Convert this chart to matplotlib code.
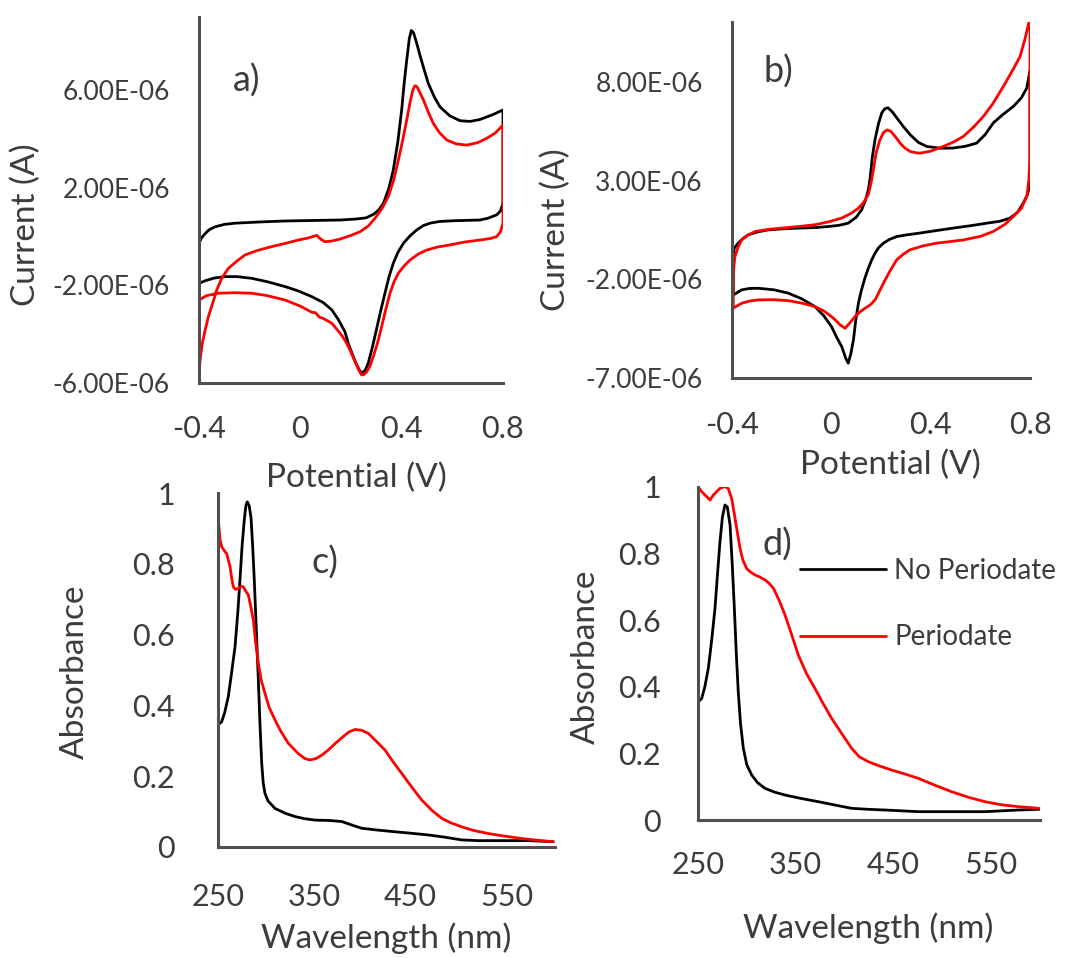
import matplotlib
matplotlib.use("Agg")
import matplotlib.pyplot as plt

plt.rcParams['font.family'] = ['Lato', 'DejaVu Sans']

W, H = 1074, 958

# ---- panel a: CV, potential (V) vs current (uA) ----
a_black_E = [-0.4, -0.39, -0.376, -0.36, -0.337, -0.3, -0.258, -0.16, -0.06, 0.05, 0.157, 0.22,
             0.26, 0.29, 0.31, 0.328, 0.35, 0.367, 0.385, 0.40, 0.41, 0.42, 0.43, 0.438, 0.447,
             0.46, 0.473, 0.49, 0.505, 0.53, 0.551, 0.59, 0.63, 0.67, 0.709, 0.76, 0.8,
             0.8, 0.79, 0.775, 0.74, 0.709, 0.604, 0.55, 0.512, 0.485, 0.459, 0.432, 0.407,
             0.385, 0.367, 0.35, 0.334, 0.317, 0.30, 0.284, 0.268, 0.255, 0.242, 0.232, 0.22,
             0.209, 0.19, 0.176, 0.15, 0.124, 0.09, 0.045, -0.01, -0.06, -0.13, -0.192, -0.25,
             -0.297, -0.34, -0.376, -0.4, -0.4]
a_black_I = [-0.27, -0.05, 0.12, 0.28, 0.40, 0.5, 0.55, 0.6, 0.64, 0.66, 0.68, 0.72,
             0.77, 0.92, 1.1, 1.36, 2.0, 2.73, 3.9, 5.19, 6.3, 7.24, 8.1, 8.45, 8.35,
             7.9, 7.4, 6.8, 6.28, 5.7, 5.32, 4.95, 4.75, 4.72, 4.8, 5.0, 5.19,
             1.36, 1.05, 0.89, 0.75, 0.68, 0.65, 0.62, 0.55, 0.45, 0.27, 0.02, -0.27,
             -0.65, -1.09, -1.65, -2.32, -3.05, -3.83, -4.55, -5.19, -5.5, -5.60, -5.45, -5.2,
             -4.92, -4.4, -3.9, -3.4, -3.0, -2.7, -2.46, -2.22, -2.05, -1.85, -1.71, -1.64,
             -1.64, -1.7, -1.81, -1.92, -0.27]
a_red_E = [-0.4, -0.395, -0.387, -0.375, -0.363, -0.345, -0.33, -0.31, -0.284, -0.25, -0.218,
           -0.17, -0.113, -0.06, -0.008, 0.03, 0.055, 0.065, 0.08, 0.097, 0.125, 0.157, 0.2,
           0.236, 0.27, 0.30, 0.325, 0.347, 0.368, 0.387, 0.405, 0.42, 0.433, 0.444, 0.452,
           0.46, 0.472, 0.486, 0.505, 0.525, 0.55, 0.578, 0.615, 0.657, 0.7, 0.736, 0.77, 0.8,
           0.8, 0.79, 0.775, 0.75, 0.709, 0.65, 0.591, 0.54, 0.499, 0.465, 0.433, 0.41, 0.387,
           0.37, 0.354, 0.338, 0.321, 0.305, 0.288, 0.275, 0.262, 0.25, 0.242, 0.232, 0.215,
           0.196, 0.176, 0.157, 0.124, 0.09, 0.075, 0.06, 0.045, 0.0, -0.06, -0.13, -0.192,
           -0.26, -0.324, -0.37, -0.4, -0.4]
a_red_I = [-5.6, -5.0, -4.37, -3.8, -3.28, -2.7, -2.19, -1.7, -1.30, -1.0, -0.75,
           -0.57, -0.41, -0.28, -0.14, -0.06, 0.02, 0.05, -0.1, -0.21, -0.18, -0.1, 0.05,
           0.20, 0.45, 0.82, 1.2, 1.64, 2.3, 3.14, 4.0, 4.78, 5.5, 6.0, 6.18,
           6.15, 5.9, 5.6, 5.1, 4.64, 4.25, 3.96, 3.8, 3.75, 3.85, 4.03, 4.25, 4.57,
           0.55, 0.2, 0.0, -0.08, -0.14, -0.22, -0.34, -0.43, -0.55, -0.72, -0.96, -1.2, -1.5,
           -1.85, -2.32, -2.95, -3.69, -4.35, -4.92, -5.3, -5.54, -5.66, -5.67, -5.5, -5.1,
           -4.65, -4.24, -3.96, -3.55, -3.35, -3.3, -3.12, -3.1, -2.85, -2.6, -2.42, -2.32,
           -2.3, -2.32, -2.42, -2.6, -5.6]

# ---- panel b ----
b_black_E = [-0.395, -0.39, -0.375, -0.355, -0.334, -0.3, -0.254, -0.2, -0.133, -0.06, -0.012,
             0.03, 0.068, 0.1, 0.122, 0.137, 0.149, 0.156, 0.165, 0.176, 0.19, 0.203, 0.215,
             0.228, 0.245, 0.263, 0.29, 0.317, 0.35, 0.384, 0.44, 0.491, 0.54, 0.585, 0.62,
             0.652, 0.69, 0.733, 0.765, 0.787, 0.8,
             0.8, 0.79, 0.773, 0.75, 0.72, 0.68, 0.626, 0.56, 0.491, 0.42, 0.357, 0.3, 0.263,
             0.235, 0.21, 0.19, 0.176, 0.163, 0.15, 0.136, 0.12, 0.109, 0.098, 0.089, 0.078,
             0.068, 0.058, 0.042, 0.02, 0.001, -0.03, -0.066, -0.12, -0.173, -0.23, -0.294,
             -0.33, -0.361, -0.395, -0.395]
b_black_I = [-0.67, -0.4, -0.16, 0.08, 0.26, 0.4, 0.51, 0.56, 0.60, 0.63, 0.68,
             0.74, 0.85, 1.15, 1.53, 2.0, 2.54, 3.1, 4.2, 5.1, 5.9, 6.44, 6.65,
             6.7, 6.5, 6.2, 5.75, 5.34, 4.95, 4.74, 4.65, 4.66, 4.75, 4.91, 5.35,
             5.93, 6.35, 6.77, 7.2, 7.7, 8.6,
             2.88, 2.3, 1.87, 1.4, 1.11, 0.95, 0.85, 0.72, 0.60, 0.47, 0.35, 0.25, 0.17,
             0.03, -0.16, -0.4, -0.67, -1.0, -1.4, -1.9, -2.6, -3.21, -4.1, -5.07, -5.8,
             -6.25, -6.0, -5.41, -4.9, -4.40, -3.85, -3.38, -2.98, -2.70, -2.53, -2.45,
             -2.46, -2.53, -2.79, -0.67]
b_red_E = [-0.395, -0.392, -0.388, -0.375, -0.361, -0.335, -0.307, -0.25, -0.2, -0.13, -0.066,
           -0.01, 0.042, 0.08, 0.109, 0.13, 0.149, 0.16, 0.17, 0.18, 0.195, 0.21, 0.225, 0.24,
           0.26, 0.277, 0.297, 0.317, 0.34, 0.357, 0.4, 0.451, 0.49, 0.532, 0.575, 0.612, 0.65,
           0.693, 0.73, 0.76, 0.78, 0.795, 0.8,
           0.8, 0.795, 0.787, 0.765, 0.733, 0.7, 0.652, 0.6, 0.532, 0.48, 0.425, 0.37, 0.317,
           0.29, 0.263, 0.235, 0.21, 0.19, 0.176, 0.156, 0.136, 0.115, 0.095, 0.075, 0.055,
           0.035, 0.015, 0.001, -0.03, -0.066, -0.12, -0.173, -0.23, -0.294, -0.33, -0.361,
           -0.395, -0.395]
b_red_I = [-1.86, -1.3, -0.84, -0.35, 0.0, 0.25, 0.43, 0.54, 0.60, 0.68, 0.77,
           0.92, 1.11, 1.35, 1.61, 1.9, 2.3, 2.9, 3.6, 4.4, 5.05, 5.45, 5.58, 5.5,
           5.2, 4.91, 4.65, 4.49, 4.42, 4.40, 4.5, 4.74, 4.95, 5.25, 5.75, 6.26, 6.9,
           7.79, 8.6, 9.3, 10.2, 11.0, 11.0,
           4.07, 3.0, 2.2, 1.6, 1.19, 0.8, 0.43, 0.18, 0.0, -0.08, -0.16, -0.3, -0.5,
           -0.72, -1.01, -1.6, -2.19, -2.7, -3.04, -3.3, -3.46, -3.65, -3.89, -4.2, -4.48,
           -4.3, -4.05, -3.89, -3.6, -3.38, -3.2, -3.08, -3.03, -3.04, -3.1, -3.21,
           -3.46, -1.86]

# ---- panel c: UV-vis ----
c_black_nm = [250.3, 253.8, 257, 260.7, 264, 267.7, 270.5, 272.8, 275, 277.3, 279, 280.4, 282.3,
              284.3, 286, 287.7, 290, 291.9, 293.7, 295.4, 297, 298.8, 302, 309.2, 320, 330, 340,
              350.7, 365, 378.5, 388, 399.2, 415, 433.8, 450, 468.4, 485, 503, 520, 537.7, 555,
              572.3, 598.2]
c_black_abs = [0.345, 0.354, 0.38, 0.425, 0.49, 0.566, 0.66, 0.754, 0.85, 0.924, 0.965, 0.975,
               0.965, 0.93, 0.85, 0.754, 0.6, 0.472, 0.34, 0.236, 0.18, 0.151, 0.13, 0.109, 0.095,
               0.086, 0.08, 0.076, 0.075, 0.072, 0.063, 0.053, 0.048, 0.043, 0.039, 0.034, 0.028,
               0.020, 0.018, 0.018, 0.018, 0.018, 0.015]
c_red_nm = [250.3, 252, 253.8, 257, 259, 262.5, 264.5, 265.9, 268, 271.1, 274, 276.3, 279, 281.5,
            284, 286.7, 289, 291.9, 295, 298.8, 303, 309.2, 315, 323, 333, 340, 345.5, 352, 358,
            364.6, 372, 380.1, 386, 392.3, 399, 406.1, 414, 423.4, 432, 440.8, 451, 461.5, 472,
            482.3, 492, 503.1, 515, 530.7, 547, 565.4, 582, 598.2]
c_red_abs = [0.928, 0.87, 0.848, 0.835, 0.829, 0.792, 0.755, 0.735, 0.728, 0.730, 0.737, 0.735,
             0.722, 0.712, 0.68, 0.641, 0.58, 0.519, 0.47, 0.434, 0.395, 0.359, 0.328, 0.293,
             0.265, 0.25, 0.246, 0.25, 0.26, 0.274, 0.293, 0.312, 0.325, 0.332, 0.33, 0.321, 0.3,
             0.274, 0.24, 0.208, 0.17, 0.133, 0.104, 0.081, 0.068, 0.057, 0.047, 0.038, 0.031,
             0.024, 0.019, 0.015]

# ---- panel d ----
d_black_nm = [250.3, 253.8, 257, 260.6, 264, 267.4, 270, 272.5, 275, 277.6, 280, 282.8, 285,
              287.2, 289.2, 291.2, 293.5, 296.4, 300, 305, 311, 318.6, 328, 339, 355, 373.1,
              390, 407.3, 425, 441.4, 475.5, 509.6, 543.7, 577.8, 599]
d_black_abs = [0.355, 0.365, 0.4, 0.456, 0.54, 0.636, 0.74, 0.836, 0.91, 0.946, 0.94, 0.886,
               0.77, 0.636, 0.5, 0.385, 0.29, 0.215, 0.165, 0.135, 0.112, 0.095, 0.084, 0.075,
               0.065, 0.055, 0.045, 0.035, 0.032, 0.030, 0.025, 0.025, 0.025, 0.030, 0.032]
d_red_nm = [250.3, 254, 257.2, 262.3, 265.5, 269.1, 272.5, 275.9, 278.5, 281, 284.5, 287.9,
            290.5, 293, 296, 299.8, 304, 308.3, 313, 318.6, 323, 327.1, 333, 339, 346, 352.7,
            361, 369.7, 378, 386.8, 397, 407.3, 415, 424.3, 436, 448.2, 462, 475.5, 492, 509.6,
            527, 543.7, 560, 577.8, 599]
d_red_abs = [1.0, 0.985, 0.976, 0.961, 0.975, 0.986, 0.996, 1.0, 1.0, 0.995, 0.965, 0.906,
             0.86, 0.816, 0.78, 0.755, 0.744, 0.736, 0.73, 0.721, 0.71, 0.696, 0.66, 0.616,
             0.555, 0.495, 0.44, 0.395, 0.35, 0.305, 0.26, 0.215, 0.19, 0.175, 0.162, 0.150,
             0.138, 0.125, 0.105, 0.085, 0.068, 0.055, 0.046, 0.040, 0.035]

cv_xticks = [-0.4, 0, 0.4, 0.8]
cv_xlabels = ["-0.4", "0", "0.4", "0.8"]
a_yticks = [-6e-6, -2e-6, 2e-6, 6e-6]
b_yticks = [-7e-6, -2e-6, 3e-6, 8e-6]
uv_xticks = [250, 350, 450, 550]
uv_yticks = [0, 0.2, 0.4, 0.6, 0.8, 1]
uv_ylabels = ["0", "0.2", "0.4", "0.6", "0.8", "1"]
series_names = ["No Periodate", "Periodate"]

TXT = '#3c3c3c'
AX = '#505050'
LW = 2.0


def rect(l, t, r, b):
    return [l / W, 1 - b / H, (r - l) / W, (b - t) / H]


def ftext(x, y, s, **kw):
    fig.text(x / W, 1 - y / H, s, ha='center', va='center', color=TXT, **kw)


def style(ax, xpad, ypad, xsize, ysize):
    for s in ['top', 'right']:
        ax.spines[s].set_visible(False)
    for s in ['left', 'bottom']:
        ax.spines[s].set_color(AX)
        ax.spines[s].set_linewidth(2.2)
    ax.tick_params(axis='x', length=0, pad=xpad, labelsize=xsize, colors=TXT)
    ax.tick_params(axis='y', length=0, pad=ypad, labelsize=ysize, colors=TXT)


def line(ax, x, y, c, **kw):
    ax.plot(x, y, color=c, lw=LW, solid_joinstyle='round', solid_capstyle='round', **kw)


fig = plt.figure(figsize=(W / 100, H / 100), dpi=100)

# a
ax = fig.add_axes(rect(199, 17, 503, 383))
line(ax, a_black_E, [i * 1e-6 for i in a_black_I], 'black')
line(ax, a_red_E, [i * 1e-6 for i in a_red_I], 'red')
ax.set_xlim(-0.4, 0.8)
ax.set_ylim(-6e-6, 9.0e-6)
ax.set_xticks(cv_xticks, cv_xlabels)
ax.set_yticks(a_yticks, ['%.2E' % v for v in a_yticks])
style(ax, 23, 21, 22, 19)

# b
ax = fig.add_axes(rect(732, 22, 1030, 378))
line(ax, b_black_E, [i * 1e-6 for i in b_black_I], 'black')
line(ax, b_red_E, [i * 1e-6 for i in b_red_I], 'red')
ax.set_xlim(-0.4, 0.8)
ax.set_ylim(-7e-6, 11.05e-6)
ax.set_xticks(cv_xticks, cv_xlabels)
ax.set_yticks(b_yticks, ['%.2E' % v for v in b_yticks])
style(ax, 24, 21, 22, 19)

# c
ax = fig.add_axes(rect(218, 493, 555, 847))
line(ax, c_black_nm, c_black_abs, 'black')
line(ax, c_red_nm, c_red_abs, 'red')
ax.set_xlim(250, 600)
ax.set_ylim(0, 1)
ax.set_xticks(uv_xticks, [str(v) for v in uv_xticks])
ax.set_yticks(uv_yticks, uv_ylabels)
style(ax, 26, 31, 22, 22)

# d
ax = fig.add_axes(rect(698, 487, 1040, 820))
line(ax, d_black_nm, d_black_abs, 'black', label=series_names[0])
line(ax, d_red_nm, d_red_abs, 'red', label=series_names[1])
ax.set_xlim(250, 600)
ax.set_ylim(0, 1)
ax.set_xticks(uv_xticks, [str(v) for v in uv_xticks])
ax.set_yticks(uv_yticks, uv_ylabels)
style(ax, 22, 26.5, 22, 22)
leg = ax.legend(loc='upper left', bbox_to_anchor=(800 / W, 1 - 558 / H),
                bbox_transform=fig.transFigure, frameon=False, fontsize=20,
                handlelength=3.1, handletextpad=0.3, labelspacing=1.45,
                borderpad=0, borderaxespad=0)
for t in leg.get_texts():
    t.set_color(TXT)

# axis titles
ftext(26, 225, "Current (A)", rotation=90, fontsize=24)
ftext(556, 230, "Current (A)", rotation=90, fontsize=24)
ftext(356, 478, "Potential (V)", fontsize=24)
ftext(890, 465, "Potential (V)", fontsize=24)
ftext(75, 672, "Absorbance", rotation=90, fontsize=24)
ftext(586, 657, "Absorbance", rotation=90, fontsize=24)
ftext(386, 938, "Wavelength (nm)", fontsize=24)
ftext(868, 928, "Wavelength (nm)", fontsize=24)

# panel tags
ftext(247, 81, "a)", fontsize=26)
ftext(778, 72, "b)", fontsize=26)
ftext(325, 563, "c)", fontsize=26)
ftext(777, 545, "d)", fontsize=26)

fig.savefig("out.png", dpi=100)
